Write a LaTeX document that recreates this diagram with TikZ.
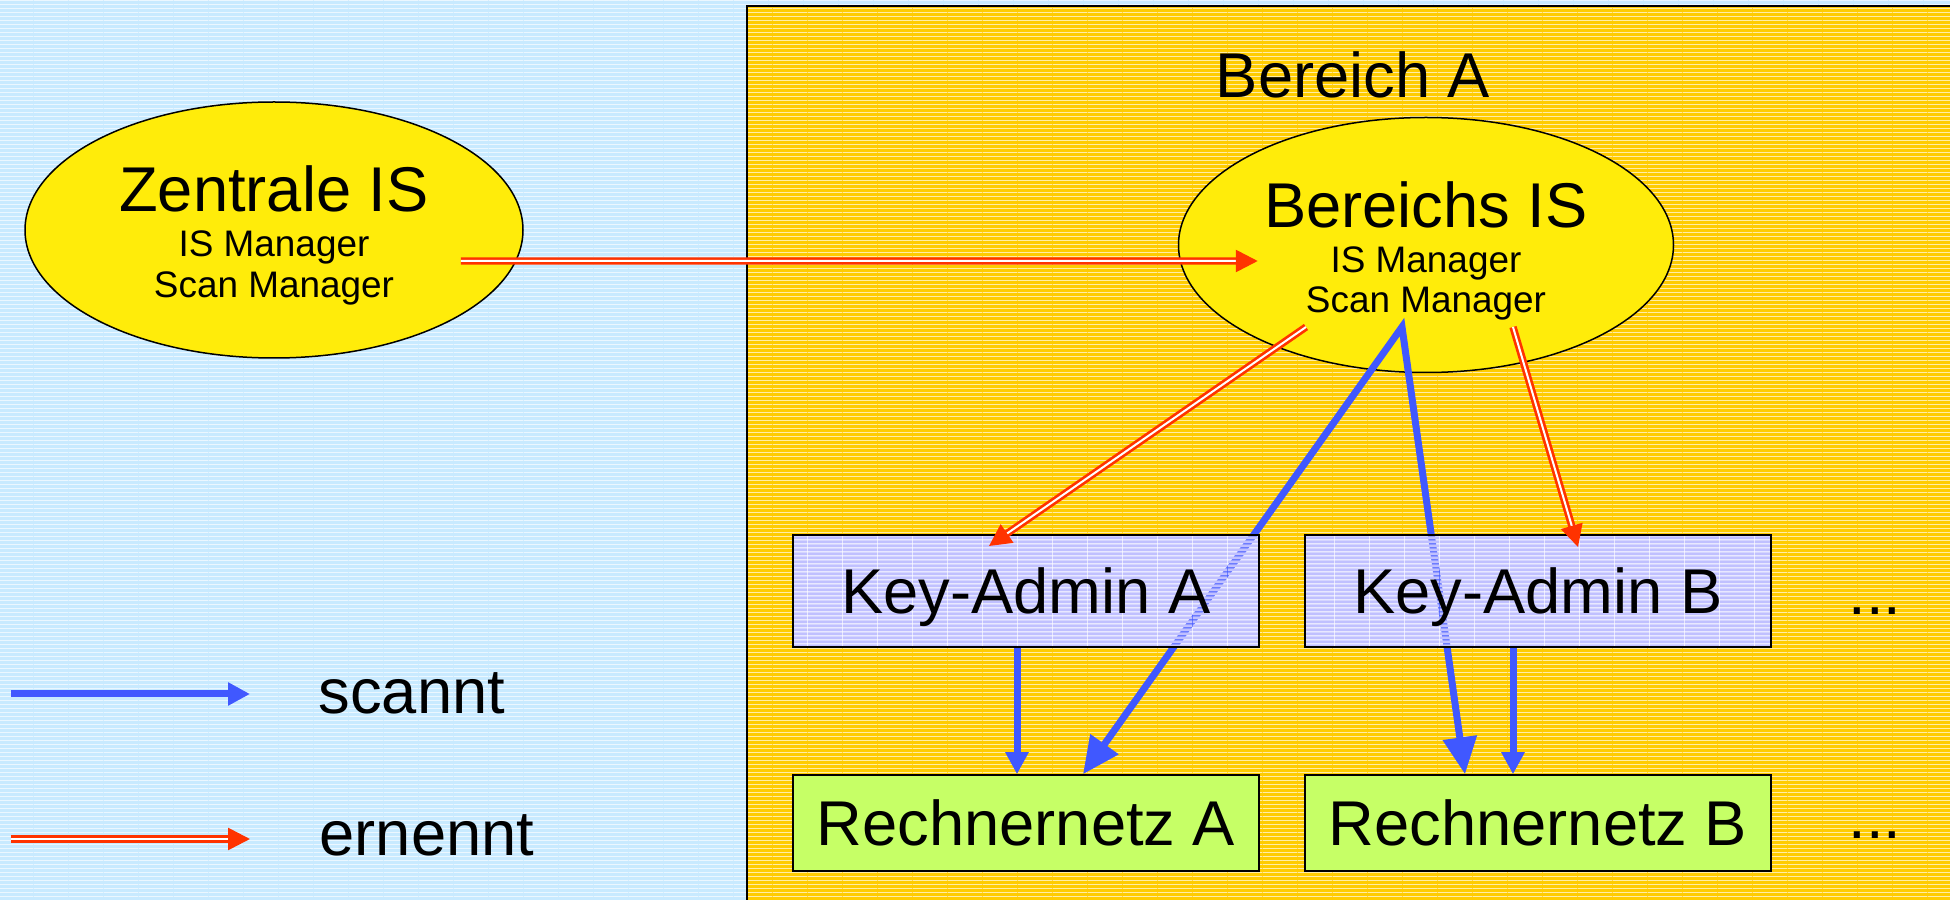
\documentclass[tikz,border=0pt]{standalone}
\usepackage{fontspec}
\setmainfont{Liberation Sans}
\usetikzlibrary{shapes.geometric,arrows.meta,patterns}

\pgfdeclarelayer{bg}
\pgfdeclarelayer{front}
\pgfsetlayers{bg,main,front}

% thin white lines / the bands between them
\pgfdeclarepatternformonly{hstripes}{\pgfpointorigin}{\pgfqpoint{10pt}{1.2pt}}{\pgfqpoint{10pt}{1.2pt}}{%
  \pgfpathrectangle{\pgfpointorigin}{\pgfqpoint{10pt}{0.22pt}}\pgfusepath{fill}}
\pgfdeclarepatternformonly{hbands}{\pgfpointorigin}{\pgfqpoint{10pt}{1.2pt}}{\pgfqpoint{10pt}{1.2pt}}{%
  \pgfpathrectangle{\pgfqpoint{0pt}{0.22pt}}{\pgfqpoint{10pt}{0.98pt}}\pgfusepath{fill}}

\begin{document}
\begin{tikzpicture}[
  bigtxt/.style={font=\fontsize{18}{22}\selectfont},
  smalltxt/.style={font=\fontsize{10.5}{12.6}\selectfont},
  istop/.style={shape=ellipse,draw,line width=0.15mm,fill=is_gelb,inner sep=0pt},
  adminbox/.style={shape=rectangle,draw,line width=0.2mm,pattern=hbands,pattern color=admin_lila,minimum width=4.66cm,minimum height=1.12cm,bigtxt,text height=12.9pt,text depth=0pt},
  netzbox/.style={shape=rectangle,draw,line width=0.15mm,fill=netz_gruen,minimum width=4.66cm,minimum height=0.96cm,bigtxt,text height=12.9pt,text depth=0pt},
  scannt/.style={draw=scan_blau,line width=0.7mm,-{Triangle[length=2.2mm,width=2.2mm]}},
  scanntweit/.style={draw=scan_blau,line width=0.7mm,line join=miter,{Triangle[length=3.7mm,width=3.3mm]}-{Triangle[length=3.7mm,width=3.3mm]}},
  ernennt/.style={draw=ernenn_rot,line width=0.27mm,double=white,double distance=0.2mm,-{Triangle[length=2.2mm,width=2.2mm]}},
  legtxt/.style={bigtxt,inner sep=0pt,anchor=base west}
]
\definecolor{bg_blau}{RGB}{200,234,255}
\definecolor{bereich_orange}{RGB}{255,204,0}
\definecolor{is_gelb}{RGB}{255,236,10}
\definecolor{admin_lila}{RGB}{192,192,255}
\definecolor{netz_gruen}{RGB}{198,255,102}
\definecolor{scan_blau}{RGB}{64,88,255}
\definecolor{ernenn_rot}{RGB}{255,51,0}
\useasboundingbox (0,0) rectangle (19.5,9);

\begin{pgfonlayer}{bg}
\fill[bg_blau] (0,0) rectangle (19.5,9);
\fill[pattern=hstripes,pattern color=white] (0,0) rectangle (19.5,9);
\fill[bereich_orange] (7.47,0) rectangle (19.5,8.94);
\fill[pattern=hstripes,pattern color=white] (7.47,0) rectangle (19.5,8.94);
\draw[line width=0.2mm] (7.47,0) -- (7.47,8.94) -- (19.5,8.94);
\end{pgfonlayer}

\node[bigtxt,anchor=base] (bereich_titel) at (13.53,8.02) {Bereich A};

\node[istop,minimum width=4.98cm,minimum height=2.56cm] (zis) at (2.74,6.70) {};
\node[bigtxt,anchor=base] (zis_titel) at ([yshift=1.8mm]zis.center) {Zentrale IS};
\node[smalltxt,anchor=base] (zis_ism) at ([yshift=-2.7mm]zis.center) {IS Manager};
\node[smalltxt,anchor=base] (zis_scm) at ([yshift=-6.8mm]zis.center) {Scan Manager};

\node[istop,minimum width=4.95cm,minimum height=2.55cm] (bis) at (14.26,6.55) {};
\node[bigtxt,anchor=base] (bis_titel) at ([yshift=1.7mm]bis.center) {Bereichs IS};
\node[smalltxt,anchor=base] (bis_ism) at ([yshift=-2.8mm]bis.center) {IS Manager};
\node[smalltxt,anchor=base] (bis_scm) at ([yshift=-6.8mm]bis.center) {Scan Manager};

\begin{pgfonlayer}{front}
\node[adminbox] (ka_a) at (10.26,3.09) {Key-Admin A};
\node[adminbox] (ka_b) at (15.38,3.09) {Key-Admin B};
\end{pgfonlayer}
\node[netzbox] (rn_a) at (10.26,0.77) {Rechnernetz A};
\node[netzbox] (rn_b) at (15.38,0.77) {Rechnernetz B};
\node[bigtxt,anchor=base] (mehr_ka) at (18.75,2.85) {...};
\node[bigtxt,anchor=base] (mehr_rn) at (18.75,0.61) {...};

% white under the key admins, so the scan lines show through
\begin{pgfonlayer}{bg}
\fill[white] (ka_a.south west) rectangle (ka_a.north east);
\fill[white] (ka_b.south west) rectangle (ka_b.north east);
\end{pgfonlayer}

% scannt
\coordinate (bis_scan) at ([xshift=-2.4mm,yshift=-8.2mm]bis.center);
\draw[scanntweit] ([xshift=5.7mm]rn_a.north) -- (bis_scan) -- ([xshift=-7.3mm]rn_b.north);
\draw[scannt] ([xshift=-0.9mm]ka_a.south) -- ([xshift=-0.9mm]rn_a.north);
\draw[scannt] ([xshift=-2.5mm]ka_b.south) -- ([xshift=-2.5mm]rn_b.north);

% ernennt
\begin{pgfonlayer}{front}
\draw[ernennt] ([xshift=-6.3mm,yshift=-3.1mm]zis.east) -- ([xshift=8mm,yshift=-1.6mm]bis.west);
\draw[ernennt] ([xshift=-12mm,yshift=-8.2mm]bis.center) -- ([xshift=-3.7mm,yshift=-1.2mm]ka_a.north);
\draw[ernennt] ([xshift=8.7mm,yshift=-8.2mm]bis.center) -- ([xshift=4mm,yshift=-1.3mm]ka_b.north);
\end{pgfonlayer}

% legend
\coordinate (leg_scan_von) at (0.11,2.06);
\coordinate (leg_scan_bis) at (2.50,2.06);
\coordinate (leg_ern_von) at (0.11,0.61);
\coordinate (leg_ern_bis) at (2.50,0.61);
\draw[scannt] (leg_scan_von) -- (leg_scan_bis);
\draw[ernennt] (leg_ern_von) -- (leg_ern_bis);
\node[legtxt] (leg_scan) at (3.18,1.87) {scannt};
\node[legtxt] (leg_ern) at (3.19,0.44) {ernennt};
\end{tikzpicture}
\end{document}
